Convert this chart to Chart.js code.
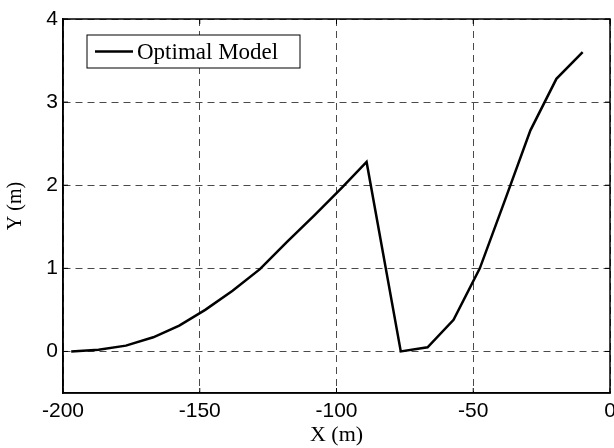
<!DOCTYPE html>
<html>
<head>
<meta charset="utf-8">
<script src="https://cdn.jsdelivr.net/npm/chart.js@4"></script>
<style>
html,body{margin:0;padding:0;background:#fff;}
#wrap{width:614px;height:448px;position:relative;}
</style>
</head>
<body>
<div id="wrap"><canvas id="c" width="614" height="448"></canvas></div>
<script>
const seriesLabel = 'Optimal Model';
const xValues = [-197,-187,-177,-167,-157.5,-148,-138,-128,-118,-108,-98,-89,-76.5,-66.7,-57.2,-47.6,-38.3,-29.1,-19.6,-10];
const yValues = [0,0.02,0.07,0.17,0.31,0.5,0.73,0.99,1.32,1.64,1.97,2.28,0,0.05,0.38,1.0,1.83,2.66,3.28,3.6];
const xTicks = [-200,-150,-100,-50,0];
const yTicks = [0,1,2,3,4];
const xTitle = 'X (m)';
const yTitle = 'Y (m)';

const points = xValues.map((x,i)=>({x:x,y:yValues[i]}));

const frame = {
  id:'frame',
  afterDraw(chart){
    const {ctx, chartArea:a, scales} = chart;
    ctx.save();
    ctx.strokeStyle='#000';
    ctx.lineWidth=1.5;
    ctx.setLineDash([]);
    ctx.strokeRect(a.left, a.top, a.right-a.left, a.bottom-a.top);
    ctx.lineWidth=1;
    xTicks.forEach(v=>{
      const px=scales.x.getPixelForValue(v);
      ctx.beginPath();ctx.moveTo(px,a.bottom);ctx.lineTo(px,a.bottom-5);ctx.stroke();
      ctx.beginPath();ctx.moveTo(px,a.top);ctx.lineTo(px,a.top+5);ctx.stroke();
    });
    yTicks.forEach(v=>{
      const py=scales.y.getPixelForValue(v);
      ctx.beginPath();ctx.moveTo(a.left,py);ctx.lineTo(a.left+5,py);ctx.stroke();
      ctx.beginPath();ctx.moveTo(a.right,py);ctx.lineTo(a.right-5,py);ctx.stroke();
    });
    // legend
    const ds = chart.data.datasets[0];
    const bx=a.left+24, by=a.top+16, bw=213, bh=33;
    ctx.fillStyle='#fff';
    ctx.fillRect(bx,by,bw,bh);
    ctx.lineWidth=1;
    ctx.strokeRect(bx,by,bw,bh);
    ctx.lineWidth=2.5;
    ctx.beginPath();ctx.moveTo(bx+8,by+bh/2);ctx.lineTo(bx+46,by+bh/2);ctx.stroke();
    ctx.fillStyle='#000';
    ctx.font='23px "Liberation Serif", "Times New Roman", serif';
    ctx.textBaseline='middle';
    ctx.textAlign='left';
    ctx.fillText(ds.label, bx+50, by+bh/2+1);
    ctx.restore();
  }
};

new Chart(document.getElementById('c'), {
  type:'line',
  data:{datasets:[{
    label:seriesLabel,
    data:points,
    borderColor:'#000',
    borderWidth:2.5,
    pointRadius:0,
    tension:0,
    fill:false
  }]},
  options:{
    responsive:false,
    animation:false,
    events:[],
    layout:{autoPadding:false,padding:{top:19,right:4,left:0,bottom:0}},
    plugins:{legend:{display:false},tooltip:{enabled:false},title:{display:false}},
    scales:{
      x:{
        type:'linear',
        min:-200,max:0,
        afterBuildTicks(s){ s.ticks = xTicks.map(v=>({value:v})); },
        afterFit(s){ s.height = 55; s.paddingLeft = 0; s.paddingRight = 0; },
        grid:{color:'#4a4a4a',lineWidth:1,drawTicks:false},
        border:{display:true,color:'#000',width:1.5,dash:[7,5]},
        ticks:{color:'#000',font:{family:'"Liberation Sans", Arial, sans-serif',size:21},padding:6,maxRotation:0,autoSkip:false},
        title:{display:true,text:xTitle,color:'#000',font:{family:'"Liberation Serif", "Times New Roman", serif',size:22},padding:{top:0,bottom:0}}
      },
      y:{
        type:'linear',
        min:-0.5,max:4,
        afterBuildTicks(s){ s.ticks = yTicks.map(v=>({value:v})); },
        afterFit(s){ s.width = 63; s.paddingTop = 0; s.paddingBottom = 0; },
        grid:{color:'#4a4a4a',lineWidth:1,drawTicks:false},
        border:{display:true,color:'#000',width:1.5,dash:[7,5]},
        ticks:{color:'#000',font:{family:'"Liberation Sans", Arial, sans-serif',size:21},padding:5},
        title:{display:true,text:yTitle,color:'#000',font:{family:'"Liberation Serif", "Times New Roman", serif',size:20},padding:{top:4,bottom:0}}
      }
    }
  },
  plugins:[frame]
});
</script>
</body>
</html>
